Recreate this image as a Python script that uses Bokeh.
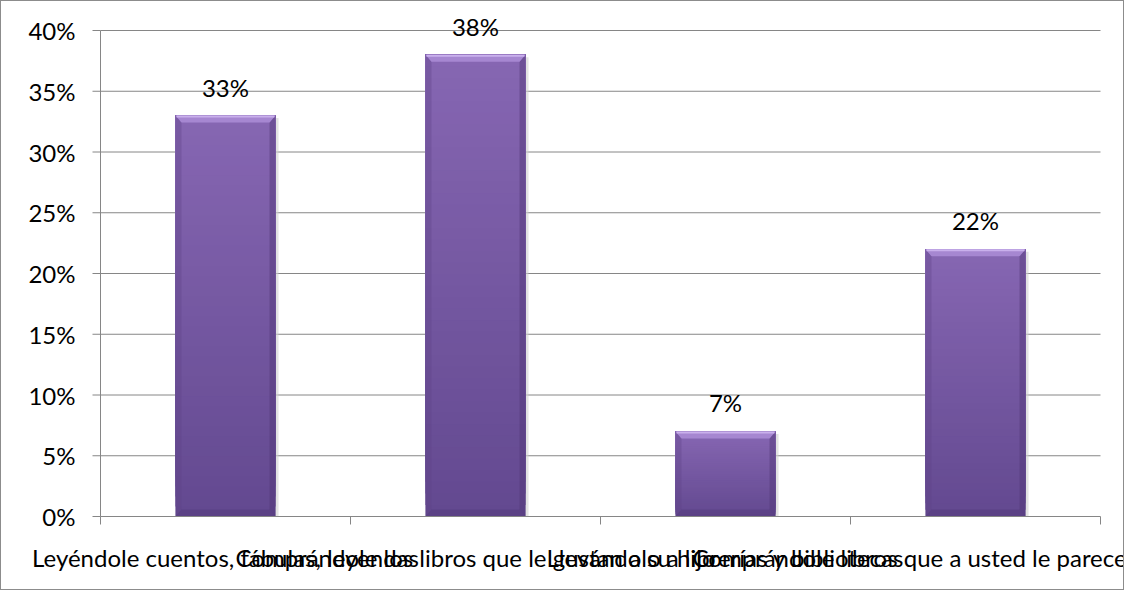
from bokeh.plotting import figure
from bokeh.layouts import column
from bokeh.models import Range1d, ColumnDataSource, LabelSet
from bokeh.embed import file_html
from bokeh.resources import INLINE
from bokeh.core.properties import value

# ---- data ----
categories = [
    "Leyéndole cuentos, fábulas, leyendas",
    "Comprándole los libros que le gustan a su hijo",
    "Llevándolo a librerías y bibliotecas",
    "Comprándole libros que a usted le parecen adecuados",
]
percentages = [33, 38, 7, 22]
y_ticks = [0, 5, 10, 15, 20, 25, 30, 35, 40]
y_tick_labels = ["0%", "5%", "10%", "15%", "20%", "25%", "30%", "35%", "40%"]
value_labels = ["33%", "38%", "7%", "22%"]

FONT = "Lato"
FSIZE = "24px"
GRAY = "#868686"

# ---- geometry (pixels) ----
W, H = 1122, 588          # inside a 1px border -> 1124 x 590 overall
AXIS_X = 99               # figure left -> value axis
CAT_PX = 250              # width of one category slot
TOP_GAP = 29              # figure top -> 40% line
GRID_PX = 486             # 0% line -> 40% line
LABEL_GAP = 41            # 0% line -> centre of category labels
TICK_PX = 8
YLABEL_GAP = 25           # value axis -> right edge of its labels

n_cat = len(categories)
centers = [i + 0.5 for i in range(n_cat)]
bounds_x = list(range(n_cat + 1))
bar_w = 0.4
y_max = y_ticks[-1]
ppu = GRID_PX / y_max                     # pixels per percentage point
y_end = y_max + TOP_GAP / ppu
y_start = -(H - TOP_GAP - GRID_PX) / ppu
x_start = -AXIS_X / CAT_PX
x_end = (W - AXIS_X) / CAT_PX

p = figure(width=W, height=H,
           x_range=Range1d(x_start, x_end), y_range=Range1d(y_start, y_end),
           output_backend="svg", toolbar_location=None,
           min_border_left=0, min_border_right=0,
           min_border_top=0, min_border_bottom=0)
p.outline_line_color = None
p.background_fill_color = "white"
p.border_fill_color = "white"
p.xaxis.visible = False
p.yaxis.visible = False
p.xgrid.grid_line_color = None
p.ygrid.grid_line_color = None

# horizontal gridlines
p.segment(x0=[0] * (len(y_ticks) - 1), x1=[n_cat] * (len(y_ticks) - 1),
          y0=y_ticks[1:], y1=y_ticks[1:], line_color=GRAY, line_width=1)

# ---- bars with gradient / bevel ----
def hex2rgb(h):
    h = h.lstrip("#")
    return tuple(int(h[i:i + 2], 16) for i in (0, 2, 4))

def mix(c1, c2, t):
    a, b = hex2rgb(c1), hex2rgb(c2)
    return "#%02x%02x%02x" % tuple(round(a[k] + (b[k] - a[k]) * t) for k in range(3))

top_col = "#8767b3"
bot_col = "#634990"
N = 40

# soft shadow
p.quad(left=[c - bar_w / 2 + 0.010 for c in centers],
       right=[c + bar_w / 2 + 0.012 for c in centers],
       bottom=[0] * n_cat, top=[v - 0.2 for v in percentages],
       fill_color="#d0d0d0", fill_alpha=0.6, line_color=None)

lefts, rights, bottoms, tops, cols = [], [], [], [], []
for c, v in zip(centers, percentages):
    for k in range(N):
        t = k / N
        lefts.append(c - bar_w / 2)
        rights.append(c + bar_w / 2)
        bottoms.append(v * t)
        tops.append(v)
        cols.append(mix(bot_col, top_col, t))
p.quad(left=lefts, right=rights, bottom=bottoms, top=tops,
       fill_color=cols, line_color=None)

dx = 6 / CAT_PX
dy = 7 / ppu
xs_top, ys_top, xs_bot, ys_bot, xs_l, ys_l, xs_r, ys_r = [], [], [], [], [], [], [], []
for c, v in zip(centers, percentages):
    l, r = c - bar_w / 2, c + bar_w / 2
    xs_top.append([l, r, r - dx, l + dx]); ys_top.append([v, v, v - dy, v - dy])
    xs_bot.append([l, r, r - dx, l + dx]); ys_bot.append([0, 0, dy, dy])
    xs_l.append([l, l + dx, l + dx, l]); ys_l.append([0, dy, v - dy, v])
    xs_r.append([r, r - dx, r - dx, r]); ys_r.append([0, dy, v - dy, v])
p.patches(xs_l, ys_l, fill_color="#5e4386", fill_alpha=0.35, line_color=None)
p.patches(xs_r, ys_r, fill_color="#4f3575", fill_alpha=0.45, line_color=None)
p.patches(xs_bot, ys_bot, fill_color="#4d3472", fill_alpha=0.35, line_color=None)
p.patches(xs_top, ys_top, fill_color="#a687d1", line_color=None)
p.segment(x0=[c - bar_w / 2 + 0.004 for c in centers], x1=[c + bar_w / 2 - 0.004 for c in centers],
          y0=[v - 1 / ppu for v in percentages], y1=[v - 1 / ppu for v in percentages],
          line_color="#c9b0ec", line_width=2)

# value labels
src = ColumnDataSource(dict(x=centers, y=percentages, t=value_labels))
p.add_layout(LabelSet(x="x", y="y", text="t", source=src,
                      text_align="center", text_baseline="bottom", y_offset=14,
                      text_font=value(FONT), text_font_size=FSIZE, text_color="#000000"))

# ---- category axis ----
p.segment(x0=[0], x1=[n_cat], y0=[0], y1=[0], line_color=GRAY, line_width=1)
p.segment(x0=bounds_x, x1=bounds_x, y0=[0] * len(bounds_x),
          y1=[-TICK_PX / ppu] * len(bounds_x), line_color=GRAY, line_width=1)
p.text(x=centers, y=[-LABEL_GAP / ppu] * n_cat, text=categories,
       text_align="center", text_baseline="middle",
       text_font=value(FONT), text_font_size=value(FSIZE), text_color="#000000")

# ---- value axis ----
p.segment(x0=[0], x1=[0], y0=[0], y1=[y_max], line_color=GRAY, line_width=1)
p.segment(x0=[-TICK_PX / CAT_PX] * len(y_ticks), x1=[0] * len(y_ticks),
          y0=y_ticks, y1=y_ticks, line_color=GRAY, line_width=1)
p.text(x=[-YLABEL_GAP / CAT_PX] * len(y_ticks), y=y_ticks, text=y_tick_labels,
       text_align="right", text_baseline="middle",
       text_font=value(FONT), text_font_size=value(FSIZE), text_color="#000000")

layout = column(p, styles={"border": "1px solid #8c8c8c", "background": "white"})

open("out.html", "w").write(file_html(layout, INLINE))
